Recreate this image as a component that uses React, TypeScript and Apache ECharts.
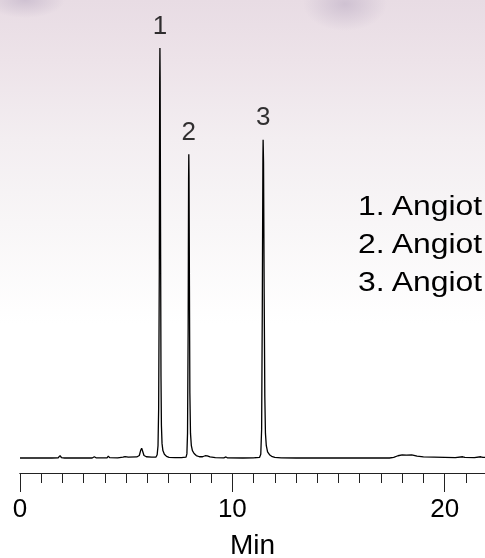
import { useEffect, useRef } from "react";
import * as echarts from "echarts";

// Chromatogram trace: retention time (min) and detector response (relative units)
const traceTime = [
  0.0, 0.8, 1.5, 1.8, 1.86, 1.9, 1.95, 2.1, 2.8, 3.4, 3.5, 3.58, 4.1, 4.16, 4.22,
  4.6, 4.85, 4.95, 5.1, 5.5, 5.62, 5.68, 5.73, 5.78, 5.84, 5.95, 6.2, 6.4, 6.46,
  6.5, 6.53, 6.56, 6.58, 6.59, 6.6, 6.62, 6.64, 6.66, 6.69, 6.73, 6.8, 6.9, 7.02,
  7.3, 7.6, 7.82, 7.86, 7.89, 7.92, 7.94, 7.95, 7.96, 7.98, 8.0, 8.03, 8.07, 8.12,
  8.2, 8.3, 8.45, 8.6, 8.72, 8.82, 8.95, 9.2, 9.6, 9.7, 9.76, 10.5, 11.0, 11.28,
  11.34, 11.38, 11.41, 11.44, 11.45, 11.47, 11.5, 11.53, 11.56, 11.6, 11.66, 11.75,
  11.85, 12.0, 12.3, 13.0, 14.5, 16.0, 17.4, 17.6, 17.8, 18.0, 18.2, 18.45, 18.7,
  19.0, 19.5, 20.0, 20.5, 20.85, 20.95, 21.4, 21.7, 21.8, 21.9,
];
const traceSignal = [
  0.0, 0.05, 0.0, 0.05, 0.45, 0.5, 0.1, 0.0, 0.05, 0.0, 0.3, 0.05, 0.05, 0.45, 0.1,
  0.05, 0.2, 0.35, 0.2, 0.25, 0.6, 1.8, 2.4, 1.6, 0.6, 0.3, 0.2, 0.2, 0.8,
  3, 12, 45, 92, 100, 93, 55, 20, 8, 3.5, 1.8, 0.9, 0.4, 0.15,
  0.1, 0.1, 0.2, 1.0, 6, 32, 68, 74.1, 69, 42, 16, 6, 3, 1.8,
  1.1, 0.6, 0.3, 0.3, 0.55, 0.5, 0.25, 0.1, 0.05, 0.25, 0.05, 0.0, 0.05, 0.15,
  0.9, 7, 35, 73, 77.6, 72, 40, 15, 6, 3, 1.5, 0.8,
  0.4, 0.15, 0.05, 0.0, 0.0, 0.0, 0.0, 0.15, 0.55, 0.75, 0.7, 0.75, 0.45,
  0.25, 0.2, 0.15, 0.1, 0.3, 0.15, 0.1, 0.3, 0.15, 0.15,
];

// Numbered peaks
const peakNumbers = ["1", "2", "3"];
const peakTime = [6.59, 7.95, 11.45];
const peakHeight = [100, 74.1, 77.6];

// Peak identification list (runs off the right edge)
const compounds = ["1. Angiot", "2. Angiot", "3. Angiot"];

const FONT = "'Liberation Sans', Arial, Helvetica, sans-serif";
const INK = "#000";

export default function App() {
  const ref = useRef<HTMLDivElement>(null);

  useEffect(() => {
    if (!ref.current) return;
    const chart = echarts.init(ref.current, undefined, { renderer: "svg" });

    const trace = traceTime.map((t, i) => [t, traceSignal[i]]);
    const apexes = peakTime.map((t, i) => [t, peakHeight[i]]);

    const blob = (cx: number, cy: number, rx: number, ry: number) => ({
      type: "ellipse",
      z: -99,
      silent: true,
      shape: { cx, cy, rx, ry },
      style: {
        fill: {
          type: "radial",
          x: 0.5,
          y: 0.5,
          r: 0.5,
          colorStops: [
            { offset: 0, color: "rgba(196,182,202,0.7)" },
            { offset: 1, color: "rgba(196,182,202,0)" },
          ],
        },
      },
    });

    const backdrop = [
      {
        type: "rect",
        z: -100,
        silent: true,
        shape: { x: 0, y: 0, width: 485, height: 558 },
        style: {
          fill: {
            type: "linear",
            x: 0,
            y: 0,
            x2: 0,
            y2: 1,
            colorStops: [
              { offset: 0, color: "#e8dce4" },
              { offset: 0.11, color: "#ede3e9" },
              { offset: 0.25, color: "#f3eef1" },
              { offset: 0.4, color: "#f8f6f7" },
              { offset: 0.58, color: "#ffffff" },
              { offset: 1, color: "#ffffff" },
            ],
          },
        },
      },
      blob(25, 0, 40, 18),
      blob(345, 4, 42, 27),
    ];

    const legendTexts = compounds.map((name, i) => ({
      type: "text",
      z: 100,
      x: 358,
      y: 205 + i * 38,
      scaleX: 1.14,
      style: {
        text: name,
        fill: INK,
        font: `28px ${FONT}`,
        textAlign: "left",
        textVerticalAlign: "middle",
      },
    }));

    const axisLine = { show: true, onZero: false, lineStyle: { color: "#222", width: 1 } };

    chart.setOption({
      animation: false,
      grid: {
        left: 20,
        right: 0,
        top: 48,
        bottom: 85,
        containLabel: false,
        outerBoundsMode: "none",
      },
      xAxis: [
        {
          type: "value",
          position: "bottom",
          min: 0,
          max: 21.9,
          interval: 10,
          axisLine,
          axisTick: { show: true, length: 19, lineStyle: { color: "#222", width: 1 } },
          axisLabel: {
            color: INK,
            fontSize: 26,
            fontFamily: FONT,
            margin: 22,
            formatter: (v: number) => (v % 10 === 0 ? String(v) : ""),
          },
          splitLine: { show: false },
          name: "Min",
          nameLocation: "middle",
          nameGap: 57,
          nameTextStyle: { color: INK, fontSize: 28, fontFamily: FONT },
        },
        {
          type: "value",
          position: "bottom",
          min: 0,
          max: 21.9,
          interval: 1,
          axisLine,
          axisTick: { show: true, length: 10, lineStyle: { color: "#222", width: 1 } },
          axisLabel: { show: false },
          splitLine: { show: false },
        },
      ],
      yAxis: {
        type: "value",
        show: false,
        min: -3.66,
        max: 100,
        splitLine: { show: false },
      },
      graphic: [...backdrop, ...legendTexts],
      series: [
        {
          type: "line",
          xAxisIndex: 0,
          data: trace,
          showSymbol: false,
          symbol: "none",
          clip: false,
          lineStyle: { color: INK, width: 1.3 },
          z: 3,
        },
        {
          type: "scatter",
          xAxisIndex: 0,
          data: apexes,
          symbolSize: 1,
          itemStyle: { color: "rgba(0,0,0,0)" },
          label: {
            show: true,
            position: "top",
            distance: 10,
            color: INK,
            fontSize: 26,
            fontFamily: FONT,
            formatter: (p: { dataIndex: number }) => peakNumbers[p.dataIndex],
          },
          z: 4,
        },
      ],
    });

    return () => chart.dispose();
  }, []);

  return (
    <div
      ref={ref}
      style={{ position: "fixed", left: 0, top: 0, width: 485, height: 558 }}
    />
  );
}
